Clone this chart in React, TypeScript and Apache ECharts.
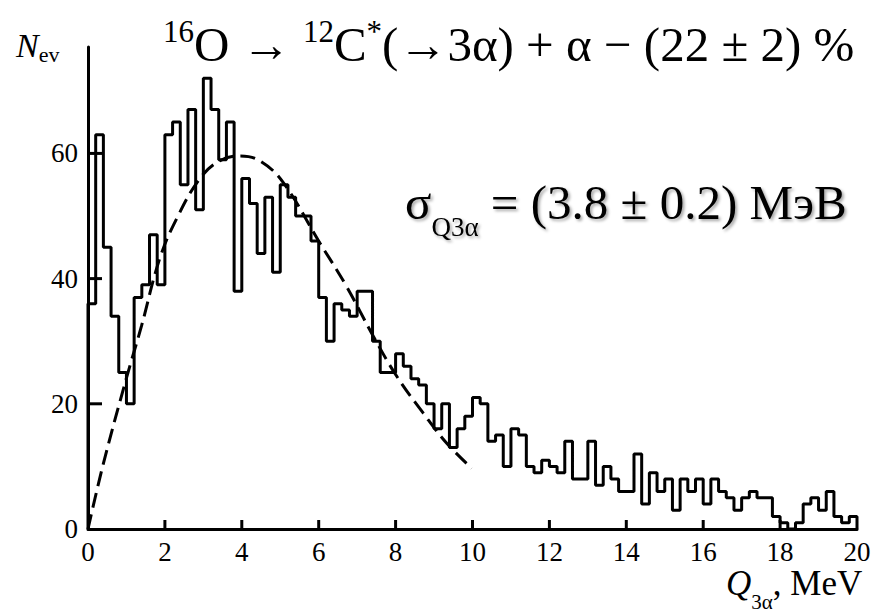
import React, { useEffect, useRef } from "react";
import * as echarts from "echarts";

// Histogram: counts per 0.2 MeV bin, Q3α from 0 to 20 MeV
const binWidth = 0.2;
const counts = [
  36, 63, 45, 34, 25, 20, 37, 39, 47, 39,
  63, 65, 55, 67, 51, 72, 67, 59, 65, 38,
  56, 52, 44, 53, 41, 55, 53, 50, 50, 46,
  37, 30, 36, 35, 34, 38, 38, 30, 25, 25,
  28, 26, 24, 23, 20, 16, 20, 13, 16, 18,
  21, 20, 14, 15, 10, 16, 15, 10, 9, 11,
  10, 9, 14, 8, 8, 14, 7, 10, 8, 6,
  6, 12, 4, 9, 6, 8, 3, 8, 6, 8,
  4, 8, 6, 5, 3, 5, 6, 5, 5, 2,
  1, 0, 1, 4, 5, 3, 6, 2, 1, 2,
];

// Dashed fit curve
const fitX = [0, 0.39, 0.99, 1.39, 1.86, 2.3, 2.9, 3.42, 3.95, 4.47, 5.07, 6.03, 6.72, 7.42, 8.03, 8.72, 9.33, 9.98];
const fitY = [0, 10.2, 23.9, 32.4, 43.1, 49.5, 55.9, 58.8, 59.6, 58.8, 55.4, 45.7, 38.8, 30.8, 24.4, 18.5, 13.7, 9.7];

const xTickValues = [2, 4, 6, 8, 10, 12, 14, 16, 18];
const yTickValues = [20, 40, 60];
const yLabelValues = [0, 20, 40, 60];

const FONT = "Liberation Serif";

export default function App() {
  const ref = useRef<HTMLDivElement>(null);
  useEffect(() => {
    if (!ref.current) return;
    const chart = echarts.init(ref.current, null, { renderer: "svg" });
    const nBins = counts.length;
    const histData: number[][] = [[0, 0]];
    counts.forEach((c, i) => histData.push([+(i * binWidth).toFixed(2), c]));
    histData.push([+(nBins * binWidth).toFixed(2), counts[nBins - 1]]);
    histData.push([+(nBins * binWidth).toFixed(2), 0]);
    const fitData = fitX.map((x, i) => [x, fitY[i]]);

    chart.setOption({
      animation: false,
      backgroundColor: "#ffffff",
      grid: { left: 88, right: 29, top: 47, bottom: 84 },
      xAxis: {
        type: "value",
        min: 0,
        max: 20,
        interval: 2,
        axisLine: { show: true, onZero: false, lineStyle: { color: "#000", width: 3 } },
        axisTick: { show: false },
        axisLabel: {
          color: "#000",
          fontFamily: FONT,
          fontSize: 27,
          margin: 9,
        },
        splitLine: { show: false },
      },
      yAxis: {
        type: "value",
        min: 0,
        max: 77,
        axisLine: { show: true, onZero: false, lineStyle: { color: "#000", width: 3 } },
        axisTick: { show: false },
        axisLabel: {
          color: "#000",
          fontFamily: FONT,
          fontSize: 27,
          margin: 10,
          customValues: yLabelValues,
        },
        splitLine: { show: false },
      },
      series: [
        {
          type: "line",
          data: histData,
          step: "end",
          showSymbol: false,
          symbol: "none",
          lineStyle: { color: "#000", width: 3 },
          z: 3,
        },
        {
          type: "line",
          data: fitData,
          smooth: 0.4,
          showSymbol: false,
          symbol: "none",
          lineStyle: { color: "#000", width: 3, type: [15, 7] },
          z: 2,
        },
      ],
    });

    // Inward tick marks, positioned through the chart's own axis scales
    const tickLines: any[] = [];
    xTickValues.forEach((v) => {
      const p = chart.convertToPixel({ gridIndex: 0 }, [v, 0]) as number[];
      tickLines.push({
        type: "line",
        shape: { x1: p[0], y1: p[1], x2: p[0], y2: p[1] - 9 },
        style: { stroke: "#000", lineWidth: 3 },
      });
    });
    yTickValues.forEach((v) => {
      const p = chart.convertToPixel({ gridIndex: 0 }, [0, v]) as number[];
      tickLines.push({
        type: "line",
        shape: { x1: p[0], y1: p[1], x2: p[0] + 14, y2: p[1] },
        style: { stroke: "#000", lineWidth: 3 },
      });
    });

    chart.setOption({
      graphic: [
        {
          type: "group",
          id: "ticks",
          z: 10,
          children: tickLines,
        },
        {
          type: "text",
          id: "title",
          left: 163,
          top: 16,
          style: {
            text: "{s|16}{b|O → }{s|12}{b|C}{s|*}{b|(→3α) + α − (22 ± 2) %}",
            fill: "#000",
            rich: {
              b: { fontFamily: FONT, fontSize: 49, fill: "#000", lineHeight: 56 },
              s: { fontFamily: FONT, fontSize: 31, fill: "#000", verticalAlign: "top", lineHeight: 56 },
            },
          },
        },
        {
          type: "text",
          id: "yname",
          left: 16,
          top: 28,
          style: {
            text: "{n|N}{e|ev}",
            rich: {
              n: { fontFamily: FONT, fontStyle: "italic", fontSize: 34, fill: "#000", lineHeight: 40 },
              e: { fontFamily: FONT, fontSize: 22, fill: "#000", verticalAlign: "bottom", lineHeight: 40 },
            },
          },
        },
        {
          type: "text",
          id: "xname",
          left: 726,
          top: 566,
          style: {
            text: "{q|Q}{sub|3α}{m|, MeV}",
            rich: {
              q: { fontFamily: FONT, fontStyle: "italic", fontSize: 35, fill: "#000", lineHeight: 46, verticalAlign: "top" },
              sub: { fontFamily: FONT, fontSize: 21, fill: "#000", verticalAlign: "bottom", lineHeight: 46 },
              m: { fontFamily: FONT, fontSize: 35, fill: "#000", lineHeight: 46, verticalAlign: "top" },
            },
          },
        },
        {
          type: "text",
          id: "sigma",
          left: 405,
          top: 178,
          style: {
            text: "{g|σ}{sub|Q3α}{g| = (3.8 ± 0.2) МэВ}",
            rich: {
              g: {
                fontFamily: FONT, fontSize: 49, fill: "#000", lineHeight: 62, verticalAlign: "top",
                textShadowColor: "rgba(0,0,0,0.35)", textShadowBlur: 3, textShadowOffsetX: 2, textShadowOffsetY: 2,
              },
              sub: {
                fontFamily: FONT, fontSize: 27, fill: "#000", lineHeight: 62, verticalAlign: "bottom",
                textShadowColor: "rgba(0,0,0,0.35)", textShadowBlur: 3, textShadowOffsetX: 2, textShadowOffsetY: 2,
              },
            },
          },
        },
      ],
    });
    return () => chart.dispose();
  }, []);
  return (
    <div
      ref={ref}
      style={{ position: "fixed", left: 0, top: 0, width: 886, height: 613 }}
    />
  );
}
